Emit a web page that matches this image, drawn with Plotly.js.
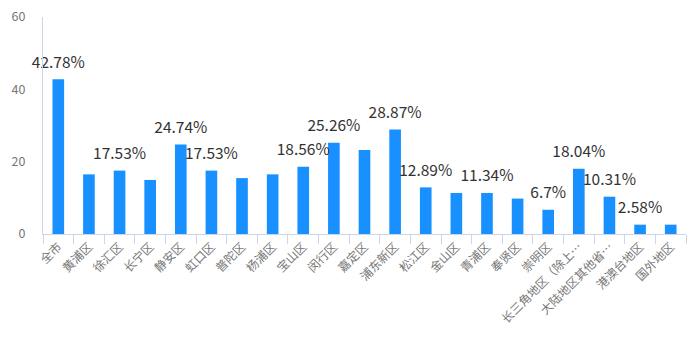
<!DOCTYPE html>
<html>
<head>
<meta charset="utf-8">
<script src="https://cdn.plot.ly/plotly-3.0.1.min.js"></script>
<style>html,body{margin:0;padding:0;background:#fff;}#chart{width:688px;height:337px;}</style>
</head>
<body>
<div id="chart"></div>
<script>
const categories = ["全市","黄浦区","徐汇区","长宁区","静安区","虹口区","普陀区","杨浦区","宝山区","闵行区","嘉定区","浦东新区","松江区","金山区","青浦区","奉贤区","崇明区","长三角地区（除上…","大陆地区其他省…","港澳台地区","国外地区"];
const values = [42.78,16.49,17.53,14.95,24.74,17.53,15.46,16.49,18.56,25.26,23.2,28.87,12.89,11.34,11.34,9.79,6.7,18.04,10.31,2.58,2.58];
const labels = ["42.78%","","17.53%","","24.74%","17.53%","","","18.56%","25.26%","","28.87%","12.89%","","11.34%","","6.7%","18.04%","10.31%","2.58%",""];
const yTicks = [0,20,40,60];

const bars = {
  type: 'bar',
  x: categories,
  y: values,
  marker: {color: '#1890FF'},
  hoverinfo: 'x+y'
};

const texts = {
  type: 'scatter',
  mode: 'markers+text',
  x: categories,
  y: values,
  text: labels,
  textposition: 'top center',
  cliponaxis: false,
  marker: {size: 11, opacity: 0},
  textfont: {family: 'Noto Sans CJK SC, Noto Sans, sans-serif', size: 15.5, color: '#333333'},
  hoverinfo: 'skip'
};

const layout = {
  width: 688, height: 337,
  margin: {l: 43, r: 2, t: 17, b: 103},
  paper_bgcolor: '#fff', plot_bgcolor: '#fff',
  bargap: 0.62,
  showlegend: false,
  font: {family: 'Noto Sans CJK SC, Noto Sans, sans-serif', color: '#6E7079'},
  xaxis: {
    type: 'category',
    range: [-0.5, categories.length - 0.5],
    tickangle: -45,
    tickson: 'boundaries',
    ticks: 'outside', ticklen: 9, tickcolor: '#CCD6EB', tickwidth: 1,
    showline: true, linecolor: '#CCD6EB', linewidth: 1,
    showgrid: false, zeroline: false,
    tickfont: {size: 12, color: '#777777'}
  },
  yaxis: {
    range: [0, 60],
    tickvals: yTicks,
    ticktext: yTicks.map(String),
    showline: true, linecolor: '#CCD6EB', linewidth: 1,
    showgrid: false, zeroline: false,
    ticks: '', ticklabelstandoff: 14,
    tickfont: {size: 12.5, color: '#777777'}
  }
};

Plotly.newPlot('chart', [bars, texts], layout, {displayModeBar: false, staticPlot: true});
</script>
</body>
</html>
